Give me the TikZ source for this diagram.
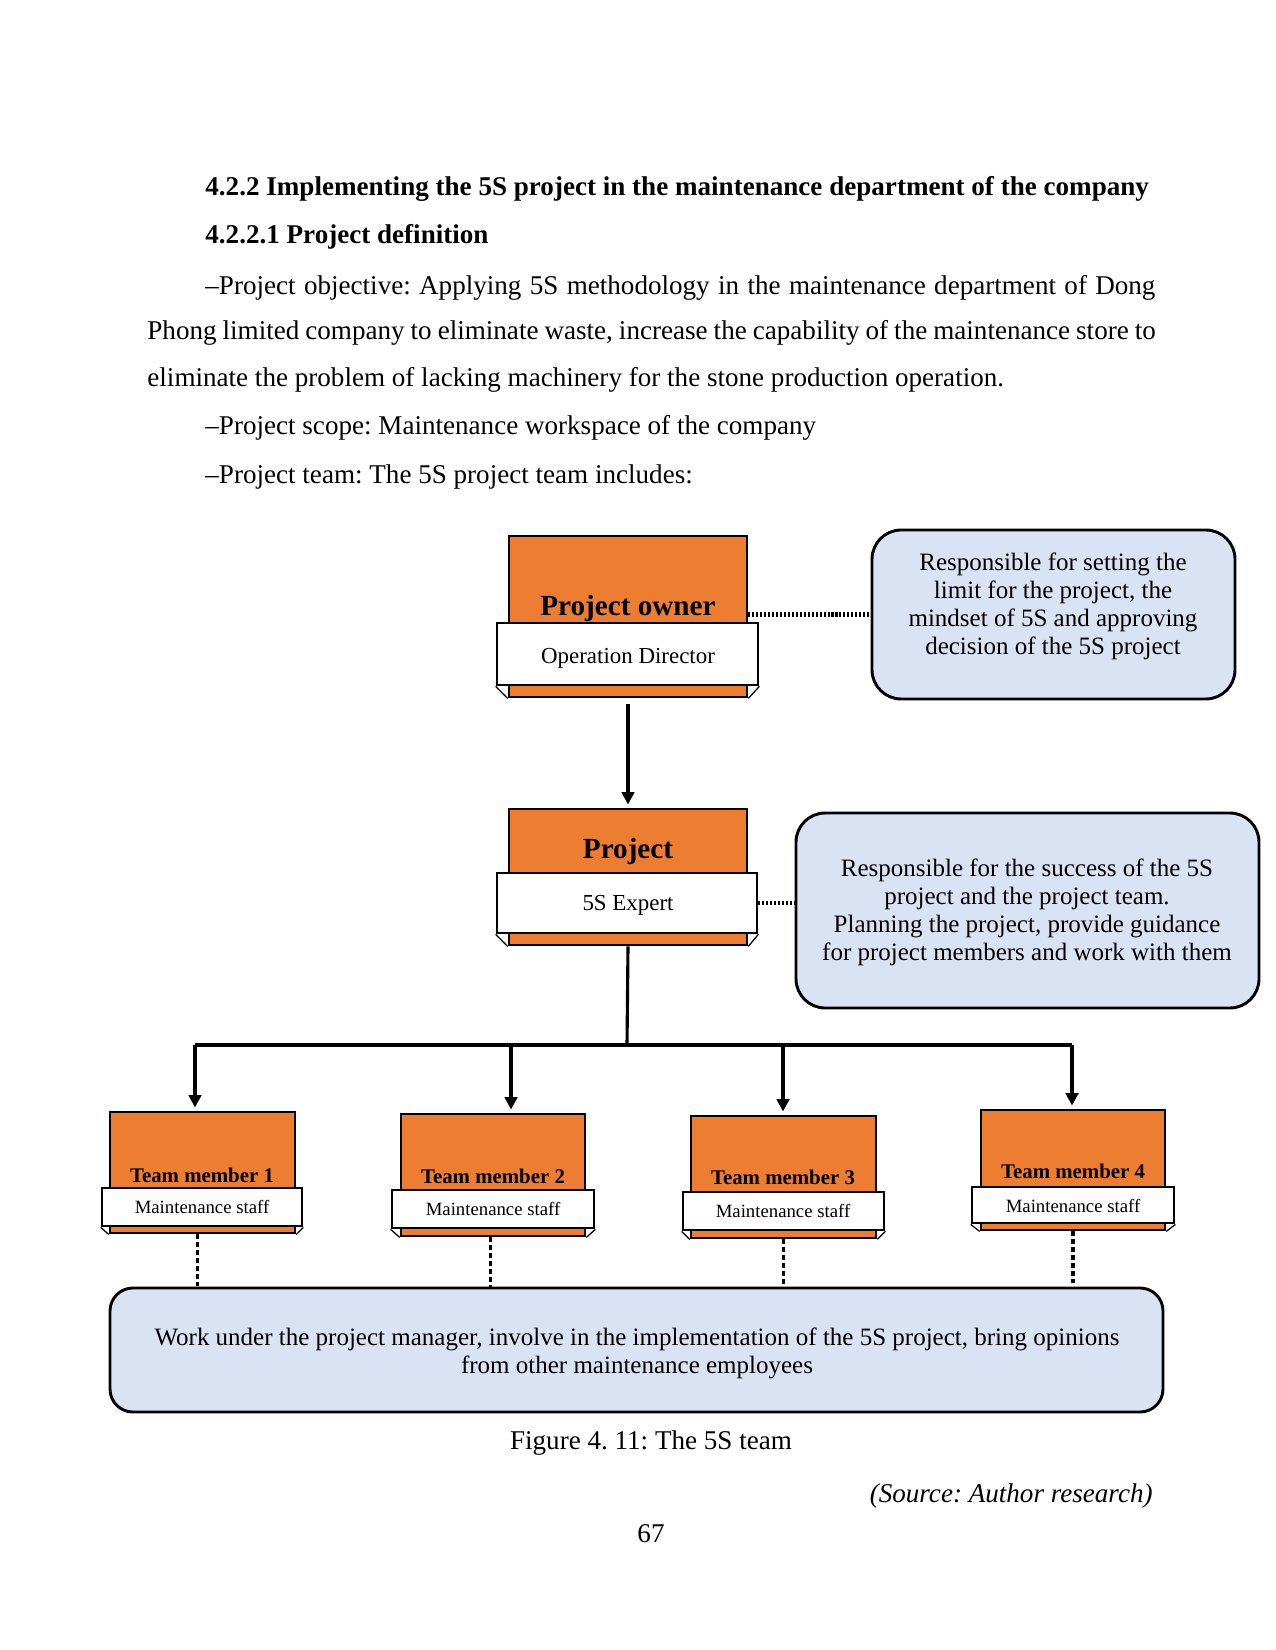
\documentclass[tikz,border=0pt]{standalone}
\usepackage{fontspec}
\setmainfont{Liberation Serif}
\usetikzlibrary{fit,arrows.meta}
\definecolor{orng}{HTML}{ED7D31}
\definecolor{lblue}{HTML}{DAE3F3}
\frenchspacing
\newcommand\mkbox[9]{%
  \node[obox, fit={(#2,#3) (#4,#5)}] (#1) {};
  \node[wbox, fit={(#6,#7) (#8,#9)}] (#1w) {};
  \draw[line width=0.6pt] (#1w.south west) -- (#1.south west);
  \draw[line width=0.6pt] (#1w.south east) -- (#1.south east);
}
\begin{document}
\begin{tikzpicture}[x=0.48pt,y=-0.48pt,
  obox/.style={draw, line width=1.3pt, fill=orng, inner sep=0pt},
  wbox/.style={draw, line width=1.3pt, fill=white, inner sep=0pt},
  callout/.style={draw, line width=1.4pt, fill=lblue, rounded corners=14pt, inner sep=0pt},
  arr/.style={line width=1.5pt, -{Triangle[length=6pt,width=6pt]}},
  conn/.style={line width=1.5pt},
  dotline/.style={line width=2.2pt, dash pattern=on 1pt off 0.9pt},
  dashline/.style={line width=1.5pt, dash pattern=on 2.2pt off 1.6pt},
  body/.style={font=\fontsize{13}{16}\selectfont, inner sep=0pt, anchor=mid west},
  head/.style={font=\fontsize{13}{16}\selectfont\bfseries, inner sep=0pt, anchor=mid west},
  ttl/.style={font=\fontsize{14}{16}\selectfont\bfseries, inner sep=0pt, anchor=mid},
  sub/.style={font=\fontsize{11}{13}\selectfont, inner sep=0pt, anchor=mid},
  tmt/.style={font=\fontsize{10}{12}\selectfont\bfseries, inner sep=0pt, anchor=mid},
  tms/.style={font=\fontsize{9}{11}\selectfont, inner sep=0pt, anchor=mid},
  ctext/.style={font=\fontsize{12}{13.4}\selectfont, align=center, inner sep=0pt}
]
\useasboundingbox (0,0) rectangle (1275,1650);

% page text
\node[head] (h1) at (205,191) {4.2.2 Implementing the 5S project in the maintenance department of the company};
\node[head] (h2) at (205,239) {4.2.2.1 Project definition};
\node[body] (l3) at (205,290) {\makebox[456pt][s]{–Project objective: Applying 5S methodology in the maintenance department of Dong}};
\node[body] (l4) at (147,335) {\makebox[484pt][s]{Phong limited company to eliminate waste, increase the capability of the maintenance store to}};
\node[body] (l5) at (147,382) {eliminate the problem of lacking machinery for the stone production operation.};
\node[body] (l6) at (205,430) {–Project scope: Maintenance workspace of the company};
\node[body] (l7) at (205,479) {–Project team: The 5S project team includes:};

% boxes
\mkbox{po}{509}{536}{747}{697}{497}{623}{758}{685}
\mkbox{pj}{509}{809}{747}{945}{497}{873}{757}{933}
\mkbox{ta}{110}{1112}{295}{1233}{102}{1188}{302}{1226}
\mkbox{tb}{401}{1114}{585}{1236}{392}{1190}{594}{1228}
\mkbox{tc}{691}{1116}{876}{1238}{683}{1192}{884}{1230}
\mkbox{td}{981}{1110}{1165}{1230}{972}{1187}{1174}{1223}

\node[ttl] (pot) at (628,611) {Project owner};
\node[sub] (pos) at (628,659) {Operation Director};
\node[ttl] (pjt) at (628,854) {Project};
\node[sub] (pjs) at (628,906) {5S Expert};

\node[tmt] (tat) at (202,1178) {Team member 1};
\node[tms] (tas) at (202,1209) {Maintenance staff};
\node[tmt] (tbt) at (493,1179) {Team member 2};
\node[tms] (tbs) at (493,1211) {Maintenance staff};
\node[tmt] (tct) at (783,1180) {Team member 3};
\node[tms] (tcs) at (783,1213) {Maintenance staff};
\node[tmt] (tdt) at (1073,1174) {Team member 4};
\node[tms] (tds) at (1073,1208) {Maintenance staff};

% callouts
\node[callout, fit={(872,530) (1235,699)}] (c1) {};
\node[ctext] (c1t) at (1053,606) {Responsible for setting the\\limit for the project, the\\mindset of 5S and approving\\decision of the 5S project};
\node[callout, fit={(796,813) (1259,1008)}] (c2) {};
\node[ctext] (c2t) at (1027,912) {Responsible for the success of the 5S\\project and the project team.\\Planning the project, provide guidance\\for project members and work with them};
\node[callout, rounded corners=11pt, fit={(110,1288) (1163,1412)}] (c3) {};
\node[ctext] (c3t) at (637,1353) {Work under the project manager, involve in the implementation of the 5S project, bring opinions\\from other maintenance employees};

% connectors
\draw[dotline] (c1.west -| po.east) -- (c1.west);
\draw[dotline] (pjw.east) -- (pjw.east -| c2.west);
\draw[arr] ([yshift=-2.5pt]po.south) -- ([yshift=1.5pt]pj.north);
\coordinate (hub) at (627,1045);
\coordinate (b1) at (195,1045);
\coordinate (b2) at (511,1045);
\coordinate (b3) at (783,1045);
\coordinate (b4) at (1072,1045);
\draw[conn] (pj.south) -- (hub);
\draw[conn] (b1) -- (b4);
\draw[arr] (b1) -- ([yshift=1.5pt]b1 |- ta.north);
\draw[arr] (b2) -- ([yshift=1.5pt]b2 |- tb.north);
\draw[arr] (b3) -- ([yshift=1.5pt]b3 |- tc.north);
\draw[arr] (b4) -- ([yshift=1.5pt]b4 |- td.north);
\draw[dashline] ([xshift=-2.4pt]ta.south) -- ([xshift=-2.4pt]ta.south |- c3.north);
\draw[dashline] ([xshift=-1.4pt]tb.south) -- ([xshift=-1.4pt]tb.south |- c3.north);
\draw[dashline] (tc.south) -- (tc.south |- c3.north);
\draw[dashline] (td.south) -- (td.south |- c3.north);

% caption
\node[font=\fontsize{13}{16}\selectfont, inner sep=0pt, anchor=mid] (cap) at (651,1445) {Figure 4. 11: The 5S team};
\node[font=\fontsize{13}{16}\selectfont\itshape, inner sep=0pt, anchor=mid east] (src) at (1153,1498) {(Source: Author research)};
\node[font=\fontsize{13}{16}\selectfont, inner sep=0pt, anchor=mid] (pg) at (651,1538) {67};
\end{tikzpicture}
\end{document}
